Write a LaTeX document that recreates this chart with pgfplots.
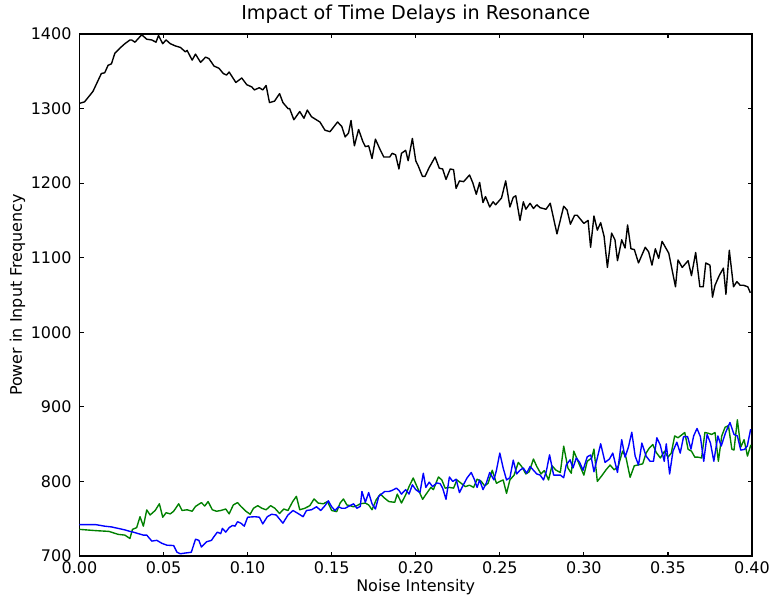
\documentclass[border=0pt]{standalone}
\usepackage{pgfplots}
\pgfplotsset{compat=1.18}
\usepackage{fontspec}
\setmainfont{DejaVu Sans}

\definecolor{mplblue}{rgb}{0,0,1}
\definecolor{mplgreen}{rgb}{0,0.5,0}

\begin{document}
\begin{tikzpicture}
% fixed page frame around the axis box
\path[use as bounding box] (-57.24bp,-30.24bp) rectangle (498.6bp,400.32bp);
\begin{axis}[
  at={(0,0)}, anchor=south west,
  scale only axis,
  width=484.2bp, height=375.84bp,
  xmin=0, xmax=0.4, ymin=700, ymax=1400,
  xtick={0,0.05,...,0.4},
  ytick={700,800,...,1400},
  minor tick num=0,
  tick align=inside,
  tick pos=both,
  major tick length=3.2bp,
  every tick/.style={black, line width=0.9bp},
  axis line style={black, line width=0.9bp},
  /pgf/number format/assume math mode=true,
  tick label style={font=\fontsize{11.5bp}{13.8bp}\selectfont},
  xticklabel style={anchor=base, yshift=-12.6bp,
    /pgf/number format/fixed, /pgf/number format/fixed zerofill,
    /pgf/number format/precision=2},
  yticklabel style={anchor=east, inner sep=0pt, xshift=-5.6bp,
    /pgf/number format/1000 sep={}},
  title={Impact of Time Delays in Resonance},
  title style={at={(axis description cs:0.5,1.0114)}, anchor=base,
    inner sep=0pt, font=\fontsize{13.8bp}{16bp}\selectfont},
  xlabel={Noise Intensity},
  xlabel style={at={(axis description cs:0.5,-0.0671)}, anchor=base,
    inner sep=0pt, font=\fontsize{11.5bp}{13.8bp}\selectfont},
  ylabel={Power in Input Frequency},
  ylabel style={at={(axis description cs:-0.0921,0.5)}, anchor=center,
    inner sep=0pt, font=\fontsize{11.5bp}{13.8bp}\selectfont},
  every axis plot/.append style={line width=1bp, line join=round},
]

% delayed system, total power
\addplot[black] coordinates {
(0.000,1307) (0.003,1309) (0.008,1323) (0.013,1347) (0.015,1348) (0.017,1358)
(0.019,1360) (0.021,1374) (0.024,1381) (0.027,1387) (0.030,1392) (0.031,1392)
(0.033,1389) (0.037,1399) (0.040,1393) (0.043,1392) (0.0455,1389) (0.047,1398)
(0.0495,1387) (0.0515,1392) (0.054,1387) (0.057,1384) (0.060,1382) (0.063,1376)
(0.064,1378) (0.067,1365) (0.069,1373) (0.072,1362) (0.075,1369) (0.077,1367)
(0.080,1357) (0.083,1354) (0.0855,1347) (0.0875,1345) (0.089,1349) (0.093,1335)
(0.0965,1341) (0.0995,1332) (0.1025,1329) (0.104,1325) (0.107,1328) (0.109,1325)
(0.111,1331) (0.113,1308) (0.116,1310) (0.119,1320) (0.121,1308) (0.124,1300)
(0.125,1300) (0.1275,1285) (0.131,1296) (0.1335,1287) (0.1355,1298) (0.138,1289)
(0.143,1282) (0.146,1271) (0.149,1269) (0.1535,1282) (0.156,1276) (0.158,1262)
(0.160,1267) (0.1615,1284) (0.1635,1250) (0.166,1272) (0.1685,1256) (0.170,1249)
(0.172,1250) (0.174,1233) (0.176,1259) (0.179,1244) (0.181,1235) (0.1845,1235)
(0.186,1240) (0.188,1238) (0.190,1219) (0.1915,1240) (0.194,1244) (0.1955,1230)
(0.198,1260) (0.200,1230) (0.2015,1223) (0.204,1209) (0.2055,1209) (0.208,1221)
(0.2115,1235) (0.214,1220) (0.216,1219) (0.218,1205) (0.2205,1219) (0.2225,1218)
(0.224,1193) (0.226,1203) (0.2285,1202) (0.232,1211) (0.234,1200) (0.236,1185)
(0.238,1201) (0.240,1174) (0.2415,1182) (0.244,1168) (0.246,1175) (0.2475,1171)
(0.251,1180) (0.2535,1203) (0.256,1168) (0.258,1181) (0.2595,1183) (0.262,1150)
(0.264,1175) (0.2655,1165) (0.268,1173) (0.270,1166) (0.272,1171) (0.274,1167)
(0.2775,1165) (0.280,1173) (0.284,1132) (0.288,1169) (0.290,1164) (0.292,1145)
(0.2945,1157) (0.296,1157) (0.300,1146) (0.3025,1150) (0.304,1114) (0.306,1156)
(0.308,1137) (0.310,1147) (0.312,1129) (0.314,1087) (0.3165,1133) (0.3185,1124)
(0.320,1096) (0.3225,1124) (0.3245,1113) (0.326,1144) (0.328,1112) (0.330,1111)
(0.3325,1093) (0.3365,1114) (0.3385,1108) (0.3405,1090) (0.3425,1112) (0.3445,1099)
(0.3465,1122) (0.3505,1106) (0.3545,1061) (0.356,1097) (0.3585,1087) (0.362,1096)
(0.364,1076) (0.3665,1107) (0.369,1061) (0.371,1061) (0.3725,1093) (0.375,1090)
(0.3765,1047) (0.378,1063) (0.3805,1076) (0.383,1086) (0.3845,1051) (0.3865,1110)
(0.389,1061) (0.391,1068) (0.393,1063) (0.395,1063) (0.3975,1061) (0.399,1053)
};

% green series
\addplot[mplgreen] coordinates {
(0.000,735.7) (0.0098,734) (0.0175,733) (0.023,729) (0.027,728) (0.030,723.5)
(0.0315,735.7) (0.034,738) (0.036,752.7) (0.038,740) (0.040,761.8) (0.042,755)
(0.045,761) (0.0475,770) (0.0495,752) (0.0515,758) (0.054,756.5) (0.056,760)
(0.059,770) (0.061,761) (0.064,762) (0.067,760) (0.069,766.5) (0.0725,771.6)
(0.0745,767) (0.0765,773) (0.079,762) (0.0815,760) (0.084,761) (0.087,763)
(0.089,756.5) (0.0915,768.5) (0.094,771.6) (0.096,766.5) (0.099,760)
(0.1015,756) (0.1035,764) (0.106,767.5) (0.1085,764) (0.111,762) (0.1137,767.5)
(0.1162,764) (0.119,757) (0.1215,763) (0.124,761) (0.1268,773) (0.129,780)
(0.131,762) (0.134,764) (0.137,767.5) (0.1395,776.5) (0.142,771) (0.145,770)
(0.1475,773) (0.150,761) (0.153,759.5) (0.155,771) (0.157,776.5) (0.159,768.5)
(0.161,767.5) (0.163,766) (0.165,767.5) (0.167,770) (0.170,771) (0.172,768.5)
(0.174,762) (0.1765,775.5) (0.179,783) (0.1815,777.5) (0.184,773) (0.1875,772)
(0.189,783) (0.1915,771) (0.194,782) (0.196,793) (0.1985,804.6) (0.2015,789)
(0.2041,776) (0.2065,784) (0.209,792) (0.2105,789) (0.2135,806) (0.2155,802)
(0.2175,791) (0.220,792) (0.2225,791) (0.2245,802) (0.227,797.5) (0.2295,793)
(0.232,795) (0.2344,792) (0.2365,803) (0.239,800) (0.241,794) (0.243,797.5)
(0.2455,815) (0.248,797.5) (0.250,800) (0.252,802) (0.254,784) (0.256,802)
(0.2585,808.5) (0.261,825.5) (0.263,820) (0.2655,810) (0.2675,813) (0.270,830)
(0.272,820) (0.2745,810) (0.2765,814.5) (0.279,802) (0.281,821) (0.2835,815)
(0.286,812) (0.288,847.3) (0.2905,818) (0.2925,811) (0.294,840.6) (0.2965,827)
(0.300,808.5) (0.302,827) (0.3047,831.5) (0.306,843.4) (0.308,800) (0.3106,807.5)
(0.3132,815.6) (0.3156,822) (0.318,815.6) (0.3204,820) (0.323,840.6) (0.325,832.5)
(0.3275,805.5) (0.330,821) (0.332,822) (0.335,823.6) (0.337,838) (0.339,845)
(0.341,849.5) (0.343,839) (0.3455,831.5) (0.348,840.6) (0.350,832.5) (0.352,838)
(0.354,861) (0.356,858.6) (0.358,862) (0.360,865.6) (0.362,843) (0.364,840.6)
(0.366,832.5) (0.368,832.5) (0.370,831.5) (0.372,865.6) (0.374,864.6) (0.376,863)
(0.378,865.6) (0.380,827) (0.382,861) (0.384,872.6) (0.386,874.8) (0.388,843.4)
(0.3893,842) (0.3913,882.6) (0.3933,846) (0.3953,856) (0.3973,834) (0.3993,849)
};

% blue series
\addplot[mplblue] coordinates {
(0.000,742) (0.0098,742) (0.015,740) (0.019,739) (0.023,737) (0.027,735)
(0.030,733) (0.032,732) (0.035,730) (0.038,728) (0.040,728) (0.043,720)
(0.046,721) (0.049,717) (0.052,714.5) (0.056,714) (0.058,705) (0.060,703)
(0.063,704) (0.0665,705) (0.069,722.5) (0.071,721) (0.0725,712) (0.0755,719)
(0.0785,721) (0.080,726) (0.082,732) (0.084,730) (0.085,737) (0.087,732)
(0.089,738) (0.091,741) (0.0925,740) (0.094,746) (0.096,744) (0.098,740)
(0.100,752) (0.1043,752.7) (0.107,752) (0.109,743) (0.1117,752.7) (0.1143,756)
(0.117,755) (0.121,744) (0.124,755) (0.127,761) (0.130,757) (0.133,752.7)
(0.135,761) (0.138,762) (0.141,766) (0.1435,761) (0.146,767.5) (0.148,774)
(0.150,766) (0.152,761) (0.154,766) (0.156,764) (0.158,764) (0.160,766.5)
(0.163,770) (0.165,764) (0.167,766.5) (0.168,786.5) (0.170,772) (0.172,785)
(0.174,770) (0.176,763) (0.178,780) (0.1815,786.5) (0.184,786.5) (0.186,788)
(0.1885,791) (0.190,788) (0.1915,783) (0.194,789) (0.196,783) (0.198,795.5)
(0.200,789) (0.2025,785) (0.2045,811) (0.206,792) (0.208,799) (0.210,793)
(0.2125,798) (0.2145,797) (0.216,791) (0.218,776) (0.220,806) (0.222,800)
(0.224,803) (0.226,785) (0.228,794) (0.2305,804.6) (0.233,812) (0.235,802)
(0.2365,792) (0.238,802) (0.240,789) (0.242,798) (0.244,812) (0.2465,802)
(0.248,815) (0.250,838) (0.252,818) (0.254,802) (0.256,805) (0.258,828.5)
(0.260,810) (0.262,815) (0.264,818) (0.266,811) (0.268,820) (0.270,815)
(0.272,810) (0.274,808.5) (0.276,802) (0.2776,813) (0.2796,835.6) (0.282,808.5)
(0.284,808.5) (0.286,808.5) (0.288,805) (0.2895,822) (0.2918,829) (0.2935,818)
(0.2955,831.5) (0.2975,825.5) (0.2995,815) (0.302,833) (0.3041,835.6) (0.306,813)
(0.308,831.5) (0.310,850.5) (0.3126,825.5) (0.3152,830) (0.3172,838) (0.320,812)
(0.3225,856) (0.3245,832.5) (0.3265,846) (0.3285,866) (0.3305,834) (0.3325,822)
(0.3345,851.4) (0.337,834) (0.3394,827) (0.3414,827) (0.3434,858.6) (0.3454,849)
(0.3478,827) (0.349,850.5) (0.351,810) (0.353,840.6) (0.3553,852.6) (0.3573,838)
(0.3593,860) (0.3617,860) (0.3637,843.4) (0.3653,861) (0.3673,871) (0.3693,860)
(0.3713,827) (0.3733,863) (0.3753,851.4) (0.3773,827) (0.3797,861) (0.3817,847.5)
(0.3843,865.6) (0.3869,879) (0.3893,863) (0.3913,861) (0.3933,842) (0.3956,843)
(0.3972,847.5) (0.3992,870)
};
\end{axis}
\end{tikzpicture}
\end{document}
